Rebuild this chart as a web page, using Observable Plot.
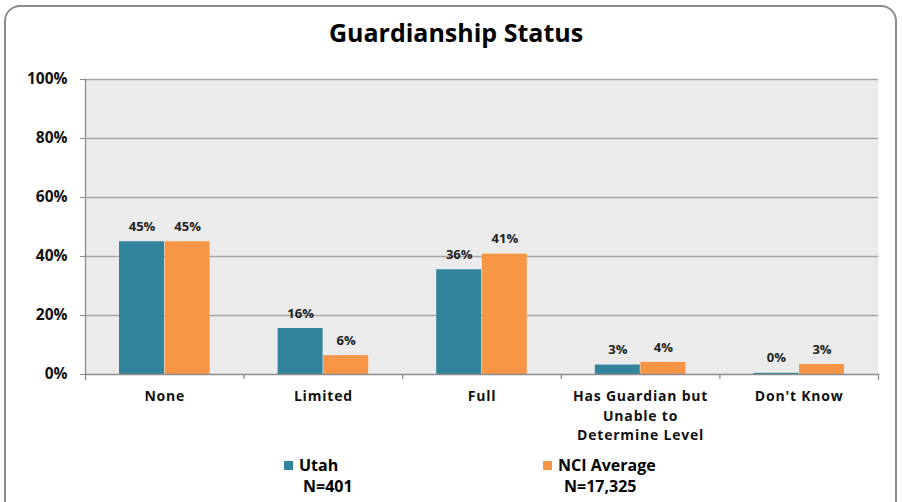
<!DOCTYPE html>
<html><head><meta charset="utf-8">
<script src="https://cdn.jsdelivr.net/npm/d3@7"></script>
<script src="https://cdn.jsdelivr.net/npm/@observablehq/plot@0.6"></script>
<style>
body{margin:0;background:#fff;}
#wrap{position:relative;width:902px;height:502px;overflow:hidden;font-family:"Open Sans",sans-serif;color:#000;}
#border{position:absolute;left:4px;top:5px;width:893px;height:540px;border:2px solid #8c8c8c;border-radius:16px;box-sizing:border-box;}
#title{position:absolute;left:0;width:912px;top:15px;text-align:center;font-weight:bold;font-size:25px;line-height:34px;}
#chart{position:absolute;left:0;top:0;}
#chart g[aria-label="x-axis tick label"] text{letter-spacing:0.8px;}
.leg{position:absolute;font-weight:bold;font-size:16px;line-height:21px;}
.sw{display:inline-block;width:9px;height:9px;margin-right:6px;vertical-align:1px;}
</style></head>
<body>
<div id="wrap">
  <div id="border"></div>
  <div id="chart"></div>
  <div id="title"></div>
  <div id="legend"></div>
</div>
<script>
const title = "Guardianship Status";
const categories = ["None", "Limited", "Full", "Has Guardian but\nUnable to\nDetermine Level", "Don't Know"];
const seriesNames = ["Utah", "NCI Average"];
const seriesN = ["N=401", "N=17,325"];
const utahValues = [45, 15.6, 35.5, 3.2, 0.4];
const nciValues = [45, 6.4, 40.8, 4.1, 3.4];
const yTicks = [0, 20, 40, 60, 80, 100];
const colors = ["#31849b", "#f79646"];

const W = 902, H = 502, mL = 85, mR = 24, mT = 79, mB = 128;
const plotH = H - mT - mB;
const bw = (W - mL - mR) / categories.length;
const barW = 45, outer = 34;

const rows = [];
categories.forEach((c, i) => {
  rows.push({cat: c, series: seriesNames[0], value: utahValues[i]});
  rows.push({cat: c, series: seriesNames[1], value: nciValues[i]});
});
const utahRows = rows.filter(d => d.series === seriesNames[0]);
const nciRows = rows.filter(d => d.series === seriesNames[1]);

const gridC = "#a6a6a6", axisC = "#8c8c8c";
const leftIn = outer, rightIn = bw - outer - barW;
const shiftU = (leftIn - rightIn) / 2, shiftN = (rightIn - leftIn) / 2;

const chart = Plot.plot({
  width: W, height: H,
  marginLeft: mL, marginRight: mR, marginTop: mT, marginBottom: mB,
  style: {fontFamily: "Open Sans", background: "transparent", overflow: "visible"},
  x: {domain: categories, padding: 0, round: false, label: null},
  y: {domain: [0, 100], label: null},
  marks: [
    Plot.frame({fill: "#ebebeb", stroke: null}),
    Plot.gridY({ticks: yTicks.slice(1), stroke: gridC, strokeOpacity: 1, strokeWidth: 1.3}),
    Plot.barY(utahRows, {x: "cat", y: "value", fill: colors[0], insetLeft: leftIn, insetRight: rightIn}),
    Plot.barY(nciRows, {x: "cat", y: "value", fill: colors[1], insetLeft: rightIn, insetRight: leftIn}),
    Plot.text(utahRows, {x: "cat", y: "value", text: d => Math.round(d.value) + "%", dx: shiftU, dy: -15, fontSize: 13, fontWeight: "bold", fill: "#222"}),
    Plot.text(nciRows, {x: "cat", y: "value", text: d => Math.round(d.value) + "%", dx: shiftN, dy: -15, fontSize: 13, fontWeight: "bold", fill: "#222"}),
    Plot.ruleY([0], {stroke: axisC, strokeWidth: 1.3}),
    Plot.frame({anchor: "left", stroke: axisC, strokeWidth: 1.3, insetBottom: -5}),
    Plot.frame({anchor: "right", stroke: axisC, strokeWidth: 1.3, insetTop: plotH, insetBottom: -5}),
    Plot.ruleX(categories.slice(1), {x: d => d, dx: -bw / 2, stroke: axisC, strokeWidth: 1.3, insetTop: plotH, insetBottom: -5}),
    Plot.axisY({ticks: yTicks, tickFormat: d => d + "%", tickSize: 5, tickPadding: 13, fontSize: 15.5, fontWeight: "bold", stroke: axisC, fill: "#111"}),
    Plot.axisX({tickSize: 0, tickPadding: 13, fontSize: 14, fontWeight: "bold", lineHeight: 1.38, fill: "#111"})
  ]
});
document.getElementById("chart").appendChild(chart);
document.getElementById("title").textContent = title;

const legendPos = [{left: 284, nLeft: 303}, {left: 543, nLeft: 564}];
const legend = document.getElementById("legend");
seriesNames.forEach((s, i) => {
  const a = document.createElement("div");
  a.className = "leg";
  a.style.left = legendPos[i].left + "px";
  a.style.top = "455px";
  a.innerHTML = `<span class="sw" style="background:${colors[i]}"></span>${s}`;
  legend.appendChild(a);
  const b = document.createElement("div");
  b.className = "leg";
  b.style.left = legendPos[i].nLeft + "px";
  b.style.top = "476px";
  b.textContent = seriesN[i];
  legend.appendChild(b);
});
</script>
</body></html>
